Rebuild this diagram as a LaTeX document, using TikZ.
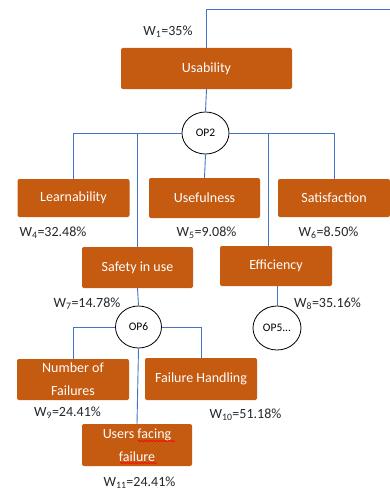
\documentclass[tikz,border=0pt]{standalone}
\usepackage{fontspec}
\setmainfont{Carlito}
\usetikzlibrary{decorations.pathmorphing}
\usetikzlibrary{shapes.geometric}
\definecolor{boxfill}{HTML}{C55A11}
\definecolor{linkblue}{HTML}{4472C4}
\definecolor{labelgray}{HTML}{262626}
\tikzset{
  crit/.style={fill=boxfill, rounded corners=2pt, text=white, minimum width=112pt, minimum height=40pt, inner sep=0pt, align=center, font=\fontsize{14}{23}\selectfont},
  opnode/.style={draw=black, line width=0.8pt, fill=white, ellipse, minimum width=47pt, minimum height=42pt, inner sep=0pt, font=\fontsize{11.5}{13}\selectfont},
  link/.style={draw=linkblue, line width=0.9pt},
  wlabel/.style={text=labelgray, inner sep=0pt, font=\fontsize{14}{16}\selectfont},
  spell/.style={draw=red, line width=0.6pt, decorate, decoration={snake, amplitude=0.8pt, segment length=3pt}},
}
\begin{document}
\begin{tikzpicture}[x=1pt, y={(0pt,-1pt)}]
\useasboundingbox (0,0) rectangle (390,495);
% boxes
\node[crit, minimum width=171pt, minimum height=41pt] (usab) at (206.5,68.5) {Usability};
\node[crit, minimum height=38pt] (learn) at (73.5,198) {Learnability};
\node[crit, minimum width=111pt] (usef) at (204.5,198) {Usefulness};
\node[crit, minimum height=38pt] (satis) at (334,198) {Satisfaction};
\node[crit, minimum width=111pt, minimum height=41pt] (safe) at (137.5,267.5) {Safety in use};
\node[crit] (eff) at (276,266) {Efficiency};
\node[crit, minimum height=41pt] (nof) at (73,379.5) {Number of\\Failures};
\node[crit, minimum height=42pt] (fh) at (201,379) {Failure Handling};
\node[crit, minimum width=110pt, minimum height=42pt] (uff) at (137,445) {Users facing\\failure};
% operator ellipses
\node[opnode] (op2) at (205.5,133) {OP2};
\node[opnode, minimum width=46pt] (op6) at (138.5,327) {OP6};
\node[opnode, minimum width=48pt, minimum height=44pt] (op5) at (277,328) {OP5...};
% top connector
\coordinate (topright) at (390,9);
\draw[link] (usab.north) |- (topright);
% connectors
\draw[link] (usab.south) -- (op2.north);
\draw[link] (op2.west) -| (learn.north);
\draw[link] (op2.east) -| (satis.north);
\draw[link] (op2.south) -- (usef.north);
\draw[link] (op2.west -| safe.north) -- (safe.north);
\draw[link] ([xshift=-8pt]op2.east -| eff.north) -- ([xshift=-8pt]eff.north);
\draw[link] (safe.south) -- (op6.north);
\draw[link] ([xshift=1pt]eff.south) -- (op5.north);
\draw[link] (op6.west) -| (nof.north);
\draw[link] (op6.east) -| (fh.north);
\draw[link] (op6.south) -- (uff.north);
% weight labels
\node[wlabel] (w1) at (168,32) {W\textsubscript{1}=35\%};
\node[wlabel] (w4) at (53,233) {W\textsubscript{4}=32.48\%};
\node[wlabel] (w5) at (206.5,233) {W\textsubscript{5}=9.08\%};
\node[wlabel] (w6) at (328.5,233) {W\textsubscript{6}=8.50\%};
\node[wlabel] (w7) at (87,304) {W\textsubscript{7}=14.78\%};
\node[wlabel] (w8) at (327.5,304) {W\textsubscript{8}=35.16\%};
\node[wlabel] (w9) at (67.5,413) {W\textsubscript{9}=24.41\%};
\node[wlabel] (w10) at (245.5,415) {W\textsubscript{10}=51.18\%};
\node[wlabel] (w11) at (139.5,483) {W\textsubscript{11}=24.41\%};
% spell-check underlines
\draw[spell] (138,441) -- (175,441);
\draw[spell] (120,463) -- (157,463);
\end{tikzpicture}
\end{document}
